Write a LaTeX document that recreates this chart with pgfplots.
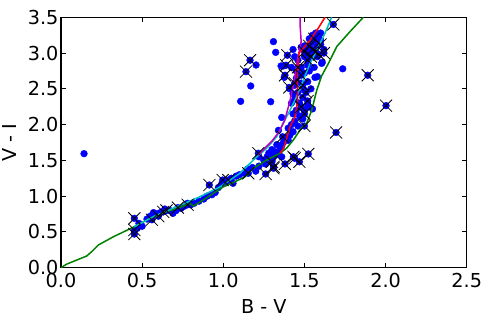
\documentclass[border=0pt]{standalone}
\usepackage{fontspec}
\setmainfont{DejaVu Sans}
\usepackage{pgfplots}
\pgfplotsset{compat=1.18}
\definecolor{mblue}{RGB}{0,0,255}
\definecolor{mgreen}{RGB}{0,128,0}
\definecolor{mred}{RGB}{255,0,0}
\definecolor{mcyan}{RGB}{0,191,191}
\definecolor{mmag}{RGB}{191,0,191}
\begin{document}
\begin{tikzpicture}
\path[use as bounding box] (-61bp,-53.3bp) rectangle (429bp,267.7bp);
\begin{axis}[
  at={(0,0)}, anchor=south west,
  scale only axis, width=405.7bp, height=250.4bp,
  xmin=0, xmax=2.5, ymin=0, ymax=3.5,
  xtick={0,0.5,1,1.5,2,2.5}, ytick={0,0.5,1,1.5,2,2.5,3,3.5},
  minor tick num=0,
  tick align=inside, major tick length=5bp,
  xtick pos=both, ytick pos=both,
  axis line style={line width=1.1bp},
  every tick/.style={black, line width=0.9bp},
  font=\fontsize{19.3}{22}\selectfont,
  /pgf/number format/assume math mode=true,
  /pgf/number format/.cd, fixed, fixed zerofill, precision=1, /tikz/.cd,
  xticklabel style={anchor=north, yshift=-2bp},
  yticklabel style={anchor=east, xshift=1bp},
  xlabel={B - V}, ylabel={V - I},
  xlabel style={at={(axis description cs:0.5,0)}, anchor=base, yshift=-45.6bp},
  ylabel style={at={(axis description cs:-0.128,0.5)}, anchor=center, rotate=0},
  clip marker paths=true,
]
% blue points
\addplot[only marks, mark=*, mark size=3.4bp, mblue, mark options={draw=mblue, fill=mblue}] coordinates {
(0.142,1.594)(1.107,2.325)(1.169,2.54)(1.202,2.833)(1.309,3.16)(1.323,3.01)(1.292,2.32)(1.736,2.78)
(1.356,2.82)(1.376,2.66)(1.36,2.10)(1.34,1.92)(1.524,2.25)(1.565,2.66)(1.606,2.856)
(1.57,3.28)(1.59,3.25)(1.60,3.28)(1.55,3.25)(1.53,3.20)(1.56,3.15)(1.60,3.18)(1.58,3.10)(1.62,3.05)
(1.50,3.10)(1.52,3.05)(1.48,3.08)(1.43,3.05)(1.44,2.95)(1.46,2.90)(1.50,2.95)(1.55,3.00)(1.58,2.95)
(1.61,2.87)(1.56,2.80)(1.52,2.83)(1.48,2.80)(1.45,2.75)(1.42,2.80)(1.37,2.82)(1.45,2.65)(1.47,2.70)
(1.50,2.72)(1.53,2.75)(1.58,2.67)(1.52,2.60)(1.48,2.58)(1.44,2.55)(1.41,2.50)(1.43,2.43)(1.46,2.45)
(1.50,2.48)(1.54,2.50)(1.49,2.38)(1.44,2.35)(1.42,2.30)(1.47,2.30)(1.52,2.28)(1.55,2.22)(1.50,2.20)
(1.45,2.20)(1.43,2.15)(1.47,2.12)(1.49,2.08)(1.44,2.05)(1.42,2.00)(1.46,1.98)(1.40,1.95)(1.43,1.90)
(1.41,1.85)(1.38,1.82)(1.40,1.78)(1.37,1.75)(1.36,1.70)(1.33,1.72)(1.35,1.65)(1.32,1.62)(1.30,1.65)
(1.28,1.60)(1.34,1.58)(1.31,1.55)(1.36,1.55)(1.30,1.50)(1.27,1.55)(1.25,1.50)(1.22,1.55)(1.26,1.45)
(1.22,1.42)(1.20,1.35)(1.18,1.40)(1.15,1.38)(1.13,1.32)(1.10,1.30)(1.08,1.28)(1.05,1.25)(1.06,1.18)
(1.02,1.20)(0.99,1.17)(0.97,1.12)(0.95,1.05)(0.93,1.02)(0.90,1.00)(0.88,0.96)(0.85,0.93)(0.82,0.90)
(0.80,0.88)(0.78,0.90)(0.76,0.86)(0.74,0.83)(0.71,0.80)(0.69,0.76)(0.67,0.80)(0.64,0.82)(0.62,0.78)
(0.60,0.76)(0.57,0.77)(0.55,0.72)(0.53,0.68)(0.50,0.58)(0.48,0.62)(0.47,0.55)
(0.452,0.69)(0.452,0.527)(0.452,0.47)(0.56,0.67)(0.60,0.72)(0.63,0.78)(0.65,0.80)(0.72,0.84)(0.78,0.88)
(0.914,1.156)(0.996,1.225)(1.031,1.225)(1.154,1.32)(1.216,1.60)(1.261,1.31)(1.309,1.39)(1.31,1.41)
(1.30,1.48)(1.38,1.45)(1.432,1.55)(1.44,1.53)(1.469,1.48)(1.524,1.59)(1.50,1.98)(1.695,1.89)
(2.003,2.265)(1.89,2.69)(1.678,3.40)(1.165,2.90)(1.14,2.74)(1.395,2.97)(1.387,2.83)(1.38,2.69)
(1.407,2.52)(1.366,1.83)(1.48,2.69)(1.49,2.55)(1.51,2.45)(1.52,2.33)(1.48,2.25)(1.50,2.15)(1.53,3.10)
(1.55,3.05)(1.57,3.02)(1.59,2.98)(1.54,2.95)(1.52,2.90)(1.56,3.20)(1.62,3.00)(1.60,3.12)(1.50,3.02)
(1.46,2.80)(1.44,2.58)
};
% model curves
\addplot[mgreen, line width=1.5bp] coordinates {
(0,0)(0.035,0.05)(0.158,0.163)(0.189,0.224)(0.23,0.317)(0.323,0.433)(0.452,0.573)(0.548,0.69)
(0.651,0.783)(0.733,0.843)(0.795,0.9)(0.815,0.862)(0.877,0.946)(0.939,1.04)(1.0,1.13)(1.062,1.19)
(1.134,1.27)(1.185,1.39)(1.267,1.505)(1.35,1.6)(1.39,1.67)(1.432,1.785)(1.473,1.925)(1.514,2.02)
(1.545,2.20)(1.576,2.48)(1.606,2.68)(1.648,2.856)(1.699,3.09)(1.781,3.30)(1.863,3.50)
};
\addplot[mcyan, line width=1.5bp] coordinates {
(0.452,0.573)(0.569,0.713)(0.713,0.853)(0.857,0.993)(0.98,1.13)(1.103,1.32)(1.185,1.505)(1.267,1.668)
(1.329,1.83)(1.37,2.02)(1.411,2.20)(1.452,2.39)(1.493,2.62)(1.535,2.856)(1.576,3.04)(1.627,3.28)(1.668,3.5)
};
\addplot[mmag, line width=1.5bp] coordinates {
(1.215,1.57)(1.26,1.68)(1.30,1.77)(1.344,1.90)(1.38,2.07)(1.411,2.33)(1.436,2.60)(1.459,2.93)(1.48,3.16)(1.473,3.40)(1.473,3.5)
};
\addplot[mred, line width=1.5bp] coordinates {
(1.35,1.60)(1.37,1.66)(1.387,1.785)(1.411,1.97)(1.442,2.11)(1.459,2.344)(1.456,2.67)(1.467,3.0)(1.535,3.18)(1.586,3.35)(1.627,3.5)
};
% crosses
\addplot[only marks, mark=x, mark size=8.5bp, black, mark options={line width=0.8bp}] coordinates {
(0.452,0.69)(0.452,0.527)(0.452,0.47)(0.56,0.67)(0.60,0.72)(0.63,0.78)(0.65,0.80)(0.72,0.84)(0.78,0.88)
(0.914,1.156)(0.996,1.225)(1.031,1.225)(1.154,1.32)(1.216,1.60)(1.261,1.31)(1.309,1.39)(1.31,1.41)
(1.30,1.48)(1.38,1.45)(1.432,1.55)(1.44,1.53)(1.469,1.48)(1.524,1.59)(1.50,1.98)(1.695,1.89)
(2.003,2.265)(1.89,2.69)(1.678,3.40)(1.165,2.90)(1.14,2.74)(1.395,2.97)(1.387,2.83)(1.38,2.69)
(1.407,2.52)(1.366,1.83)(1.48,2.69)(1.49,2.55)(1.51,2.45)(1.52,2.33)(1.48,2.25)(1.50,2.15)(1.53,3.10)
(1.55,3.05)(1.57,3.02)(1.59,2.98)(1.54,2.95)(1.52,2.90)(1.56,3.20)(1.62,3.00)(1.60,3.12)(1.50,3.02)
(1.46,2.80)(1.44,2.58)
};
\end{axis}
\end{tikzpicture}
\end{document}
